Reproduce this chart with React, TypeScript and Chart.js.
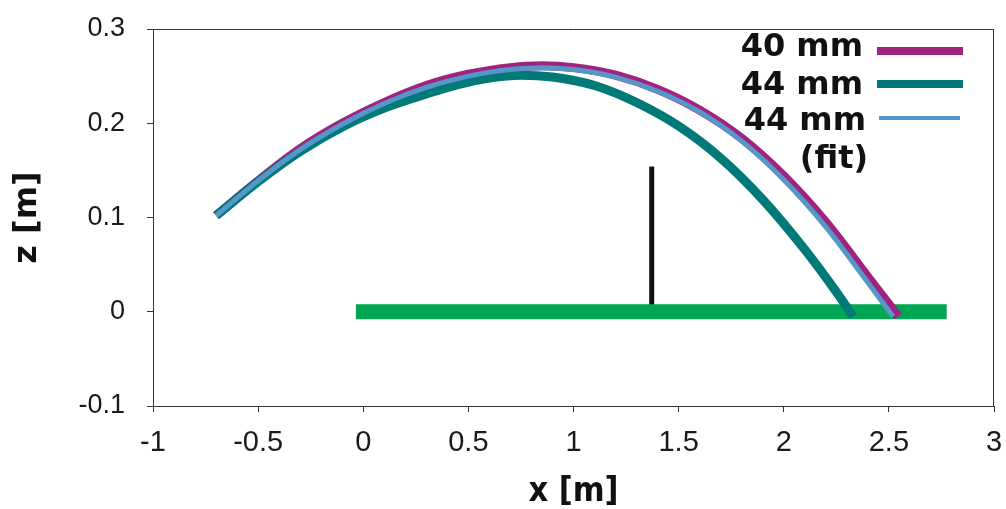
import React, { useEffect, useRef } from "react";
import { Chart, registerables } from "chart.js";

Chart.register(...registerables);

// ---- data ----
const fitX = [-0.7, -0.5, -0.3, -0.1, 0.1, 0.3, 0.5, 0.7, 0.85, 1.0, 1.2, 1.4, 1.6, 1.8, 2.0, 2.2, 2.4, 2.52];
const fitZ = [0.102, 0.139, 0.172, 0.199, 0.221, 0.238, 0.25, 0.257, 0.259, 0.257, 0.249, 0.234, 0.212, 0.181, 0.14, 0.09, 0.031, -0.005];

const mm40X = [-0.7, -0.5, -0.3, -0.1, 0.1, 0.3, 0.5, 0.7, 0.85, 1.0, 1.2, 1.4, 1.6, 1.8, 2.0, 2.2, 2.4, 2.545];
const mm40Z = [0.102, 0.139, 0.173, 0.2, 0.222, 0.24, 0.252, 0.259, 0.261, 0.259, 0.251, 0.236, 0.214, 0.184, 0.144, 0.095, 0.037, -0.005];

const mm44X = [-0.7, -0.5, -0.3, -0.1, 0.1, 0.3, 0.45, 0.6, 0.75, 0.9, 1.1, 1.3, 1.5, 1.7, 1.9, 2.1, 2.25, 2.33];
const mm44Z = [0.102, 0.138, 0.17, 0.196, 0.216, 0.231, 0.241, 0.248, 0.251, 0.249, 0.24, 0.222, 0.197, 0.163, 0.119, 0.066, 0.021, -0.005];

const tableX = [-0.035, 2.775];
const tableZ = [0, 0];

const netX = [1.372, 1.372];
const netZ = [0, 0.154];

const xTickLabels = ["-1", "-0.5", "0", "0.5", "1", "1.5", "2", "2.5", "3"];
const yTickLabels = ["-0.1", "0", "0.1", "0.2", "0.3"];

const legendLabels = ["40 mm", "44 mm", "44 mm", "(fit)"];

const PURPLE = "#a0237f";
const TEAL = "#007a78";
const LIGHTBLUE = "#5597c9";
const GREEN = "#00a651";
const NET = "#111111";

const pts = (xs: number[], ys: number[]) => xs.map((x, i) => ({ x, y: ys[i] }));

const boxPlugin = {
  id: "boxBorder",
  afterDraw(chart: any) {
    const { ctx, chartArea } = chart;
    ctx.save();
    ctx.strokeStyle = "#333";
    ctx.lineWidth = 1;
    ctx.beginPath();
    ctx.moveTo(chartArea.left, chartArea.top + 0.5);
    ctx.lineTo(chartArea.right, chartArea.top + 0.5);
    ctx.moveTo(chartArea.right - 0.5, chartArea.top);
    ctx.lineTo(chartArea.right - 0.5, chartArea.bottom);
    ctx.stroke();
    ctx.restore();
  },
};

const legendPlugin = {
  id: "customLegend",
  afterDraw(chart: any) {
    const { ctx } = chart;
    ctx.save();
    ctx.font = "bold 32px 'DejaVu Sans', Verdana, sans-serif";
    ctx.fillStyle = "#111";
    ctx.textBaseline = "middle";
    ctx.textAlign = "right";
    ctx.fillText(legendLabels[0], 863, 48);
    ctx.fillText(legendLabels[1], 863, 86);
    ctx.fillText(legendLabels[2], 866, 122);
    ctx.textAlign = "center";
    ctx.fillText(legendLabels[3], 834, 160);
    ctx.lineCap = "butt";
    ctx.strokeStyle = PURPLE;
    ctx.lineWidth = 8;
    ctx.beginPath();
    ctx.moveTo(877, 51);
    ctx.lineTo(963, 51);
    ctx.stroke();
    ctx.strokeStyle = TEAL;
    ctx.lineWidth = 8;
    ctx.beginPath();
    ctx.moveTo(877, 84);
    ctx.lineTo(963, 84);
    ctx.stroke();
    ctx.strokeStyle = LIGHTBLUE;
    ctx.lineWidth = 4;
    ctx.beginPath();
    ctx.moveTo(879, 118);
    ctx.lineTo(960, 118);
    ctx.stroke();
    ctx.restore();
  },
};

const zeroPad = (s: any) => {
  s.paddingTop = 0;
  s.paddingBottom = 0;
  s.paddingLeft = 0;
  s.paddingRight = 0;
};

export default function App() {
  const ref = useRef<HTMLCanvasElement | null>(null);

  useEffect(() => {
    if (!ref.current) return;
    const lineDs = (label: string, data: any, color: string, width: number, order: number) => ({
      label,
      data,
      borderColor: color,
      backgroundColor: color,
      borderWidth: width,
      pointRadius: 0,
      fill: false,
      cubicInterpolationMode: "monotone" as const,
      borderCapStyle: "butt" as const,
      borderJoinStyle: "round" as const,
      order,
    });
    const chart = new Chart(ref.current, {
      type: "line",
      data: {
        datasets: [
          lineDs("44 mm (fit)", pts(fitX, fitZ), LIGHTBLUE, 5, 0),
          lineDs("44 mm", pts(mm44X, mm44Z), TEAL, 9, 1),
          lineDs("40 mm", pts(mm40X, mm40Z), PURPLE, 9, 2),
          lineDs("table", pts(tableX, tableZ), GREEN, 15, 3),
          lineDs("net", pts(netX, netZ), NET, 5, 4),
        ],
      },
      options: {
        animation: false,
        responsive: false,
        layout: { padding: { top: 29, right: 12, left: 0, bottom: 0 } },
        plugins: {
          legend: { display: false },
          tooltip: { enabled: false },
        },
        scales: {
          x: {
            type: "linear",
            min: -1,
            max: 3,
            afterFit: (s: any) => {
              s.height = 103;
              zeroPad(s);
            },
            border: { display: true, color: "#333", width: 1 },
            grid: { display: true, drawOnChartArea: false, drawTicks: true, tickLength: 6, color: "#333" },
            ticks: {
              stepSize: 0.5,
              padding: 16,
              color: "#1a1a1a",
              font: { family: "'Liberation Sans Narrow', 'Liberation Sans', Arial, sans-serif", size: 29, lineHeight: 1 },
              callback: (_v: any, i: number) => xTickLabels[i],
            },
            title: {
              display: true,
              text: "x [m]",
              color: "#111",
              padding: { top: 0, bottom: 0 },
              font: { family: "'DejaVu Sans Condensed', 'DejaVu Sans', sans-serif", weight: "bold", size: 34, lineHeight: 1 },
            },
          },
          y: {
            type: "linear",
            min: -0.1,
            max: 0.3,
            afterFit: (s: any) => {
              s.width = 153;
              zeroPad(s);
            },
            border: { display: true, color: "#333", width: 1 },
            grid: { display: true, drawOnChartArea: false, drawTicks: true, tickLength: 6, color: "#333" },
            ticks: {
              stepSize: 0.1,
              padding: 22,
              color: "#1a1a1a",
              font: { family: "'Liberation Sans', Arial, sans-serif", size: 27, lineHeight: 1 },
              callback: (_v: any, i: number) => yTickLabels[i],
            },
            title: {
              display: true,
              text: "z [m]",
              color: "#111",
              padding: { top: 12, bottom: 0 },
              font: { family: "'DejaVu Sans', sans-serif", weight: "bold", size: 32, lineHeight: 1 },
            },
          },
        },
      },
      plugins: [boxPlugin, legendPlugin],
    });
    return () => chart.destroy();
  }, []);

  return (
    <div style={{ position: "absolute", left: 0, top: 0, width: 1006, height: 509, background: "#fff" }}>
      <canvas ref={ref} width={1006} height={509} style={{ display: "block", width: 1006, height: 509 }} />
    </div>
  );
}
